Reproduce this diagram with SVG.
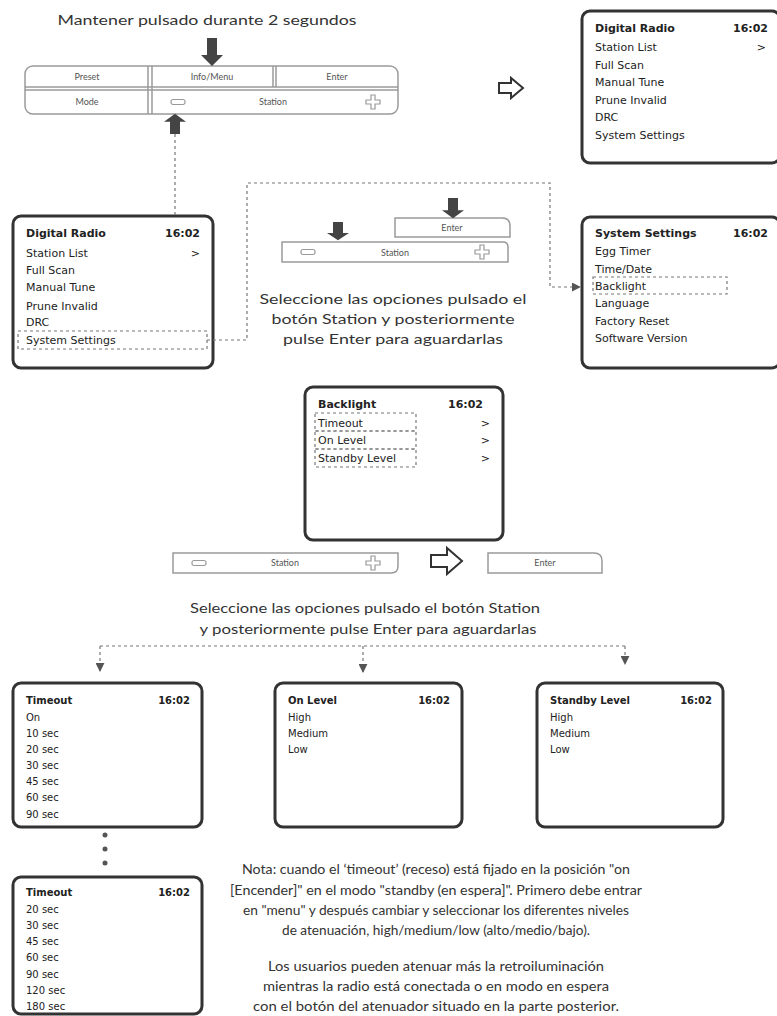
<svg xmlns="http://www.w3.org/2000/svg" xmlns:xlink="http://www.w3.org/1999/xlink" width="777" height="1016" viewBox="0 0 777 1016">
<style>
.cap{font-family:Lato,"Open Sans","Liberation Sans",sans-serif;font-size:13.5px;fill:#333;text-anchor:middle}
.btn{fill:#fff;stroke:#9a9a9a;stroke-width:1.5}
.btl{font-family:Lato,"Liberation Sans",sans-serif;font-size:9px;fill:#555;text-anchor:middle}
.scr{fill:#fff;stroke:#333;stroke-width:3}
.st{font-family:"DejaVu Sans",sans-serif;font-size:11px;fill:#222}
.sts{font-family:"DejaVu Sans",sans-serif;font-size:10px;fill:#222}
.b{font-weight:bold}
.r{text-anchor:end}
.dash{fill:none;stroke:#777;stroke-width:1.2;stroke-dasharray:3 3}
.blk{fill:#444}
.hol{fill:#fff;stroke:#333;stroke-width:2;stroke-linejoin:miter}
.ic{fill:#fff;stroke:#999;stroke-width:1.2}
</style>
<defs>
<marker id="tri" viewBox="0 0 10 10" refX="9" refY="5" markerWidth="9" markerHeight="9" markerUnits="userSpaceOnUse" orient="auto"><path d="M0,0 L10,5 L0,10 Z" fill="#555"/></marker>
<path id="down" d="M-5,0 H5 V17 H11 L0,28 L-11,17 H-5 Z"/>
<path id="plus" d="M-2,-7 H2 V-2 H7 V2 H2 V7 H-2 V2 H-7 V-2 H-2 Z"/>
<rect id="minus" x="-7" y="-2.5" width="14" height="5" rx="2"/>
</defs>

<text class="cap" x="207" y="25" font-size="14" textLength="299" lengthAdjust="spacingAndGlyphs">Mantener pulsado durante 2 segundos</text>

<g id="panel-top">
<rect class="btn" x="25" y="66" width="373" height="48" rx="8"/>
<line x1="25" y1="87" x2="398" y2="87" stroke="#9a9a9a" stroke-width="1.5"/>
<line x1="25" y1="90" x2="398" y2="90" stroke="#9a9a9a" stroke-width="1.5"/>
<line x1="148" y1="66" x2="148" y2="114" stroke="#9a9a9a" stroke-width="1.5"/>
<line x1="152" y1="66" x2="152" y2="114" stroke="#9a9a9a" stroke-width="1.5"/>
<line x1="273" y1="66" x2="273" y2="87" stroke="#9a9a9a" stroke-width="1.5"/>
<line x1="276" y1="66" x2="276" y2="87" stroke="#9a9a9a" stroke-width="1.5"/>
<text class="btl" x="87" y="80">Preset</text>
<text class="btl" x="212" y="80">Info/Menu</text>
<text class="btl" x="337" y="80">Enter</text>
<text class="btl" x="87" y="105">Mode</text>
<text class="btl" x="273" y="105">Station</text>
<use href="#minus" class="ic" x="178" y="102"/>
<use href="#plus" class="ic" x="373" y="102"/>
<use href="#down" class="blk" x="212" y="38"/>
<use href="#down" class="blk" transform="translate(175,134) scale(1,-0.72)"/>
</g>

<path id="arrow-top" class="hol" d="M499,83 H511 V78 L523,88 L511,98 V93 H499 Z"/>

<g id="screen-main2">
<rect class="scr" x="582" y="11" width="198" height="152" rx="8"/>
<text class="st b" x="595" y="32">Digital Radio</text>
<text class="st b r" x="768" y="32">16:02</text>
<text class="st" x="595" y="51">Station List</text>
<text class="st r" x="766" y="51">&gt;</text>
<text class="st" x="595" y="69">Full Scan</text>
<text class="st" x="595" y="86">Manual Tune</text>
<text class="st" x="595" y="104">Prune Invalid</text>
<text class="st" x="595" y="121">DRC</text>
<text class="st" x="595" y="139">System Settings</text>
</g>

<g id="screen-main1">
<rect class="scr" x="13" y="216" width="200" height="152" rx="8"/>
<text class="st b" x="26" y="237">Digital Radio</text>
<text class="st b r" x="200" y="237">16:02</text>
<text class="st" x="26" y="257">Station List</text>
<text class="st r" x="200" y="257">&gt;</text>
<text class="st" x="26" y="274">Full Scan</text>
<text class="st" x="26" y="291">Manual Tune</text>
<text class="st" x="26" y="310">Prune Invalid</text>
<text class="st" x="26" y="326">DRC</text>
<text class="st" x="26" y="344">System Settings</text>
<rect class="dash" x="18" y="331" width="189" height="18"/>
</g>

<g id="panel-mid">
<path class="btn" d="M395,218 H502 Q510,218 510,226 V237 H395 Z"/>
<text class="btl" x="452" y="231">Enter</text>
<path class="btn" d="M282,242 H503 Q508,242 508,247 V262 H282 Z"/>
<text class="btl" x="395" y="256">Station</text>
<use href="#minus" class="ic" x="308" y="252"/>
<use href="#plus" class="ic" x="482" y="252"/>
<use href="#down" class="blk" transform="translate(338,222) scale(1,0.65)"/>
<use href="#down" class="blk" transform="translate(453,198) scale(1,0.72)"/>
</g>
<text class="cap" x="393" y="304" font-size="14" textLength="267" lengthAdjust="spacingAndGlyphs">Seleccione las opciones pulsado el</text>
<text class="cap" x="393" y="324" font-size="14" textLength="243" lengthAdjust="spacingAndGlyphs">botón Station y posteriormente</text>
<text class="cap" x="393" y="344" font-size="14" textLength="220" lengthAdjust="spacingAndGlyphs">pulse Enter para aguardarlas</text>

<g id="screen-settings">
<rect class="scr" x="582" y="217" width="198" height="151" rx="8"/>
<text class="st b" x="595" y="237">System Settings</text>
<text class="st b r" x="768" y="237">16:02</text>
<text class="st" x="595" y="255">Egg Timer</text>
<text class="st" x="595" y="273">Time/Date</text>
<text class="st" x="595" y="290">Backlight</text>
<text class="st" x="595" y="307">Language</text>
<text class="st" x="595" y="325">Factory Reset</text>
<text class="st" x="595" y="342">Software Version</text>
<rect class="dash" x="593" y="277" width="134" height="17"/>
</g>

<g id="screen-backlight">
<rect class="scr" x="305" y="387" width="198" height="153" rx="8"/>
<text class="st b" x="318" y="408">Backlight</text>
<text class="st b r" x="483" y="408">16:02</text>
<text class="st" x="318" y="427">Timeout</text>
<text class="st r" x="490" y="427">&gt;</text>
<text class="st" x="318" y="444">On Level</text>
<text class="st r" x="490" y="444">&gt;</text>
<text class="st" x="318" y="462">Standby Level</text>
<text class="st r" x="490" y="462">&gt;</text>
<rect class="dash" x="315" y="413" width="101" height="18"/>
<rect class="dash" x="315" y="431" width="101" height="18"/>
<rect class="dash" x="315" y="449" width="101" height="18"/>
</g>

<g id="panel-bottom">
<path class="btn" d="M173,553 H398 V566 Q398,573 391,573 H173 Z"/>
<text class="btl" x="285" y="566">Station</text>
<use href="#minus" class="ic" x="199" y="563"/>
<use href="#plus" class="ic" x="373" y="563"/>
<path class="btn" d="M488,553 H594 Q602,553 602,561 V573 H488 Z"/>
<text class="btl" x="545" y="566">Enter</text>
</g>
<path id="arrow-bottom" class="hol" d="M431,555 H447 V548 L462,561 L447,574 V567 H431 Z"/>

<text class="cap" x="365" y="613" font-size="13" textLength="350" lengthAdjust="spacingAndGlyphs">Seleccione las opciones pulsado el botón Station</text>
<text class="cap" x="368" y="634" font-size="13" textLength="337" lengthAdjust="spacingAndGlyphs">y posteriormente pulse Enter para aguardarlas</text>

<g id="connectors">
<line class="dash" x1="175" y1="134" x2="175" y2="215"/>
<polyline class="dash" points="207,340 247,340 247,183 550,183 550,287 580,287" marker-end="url(#tri)"/>
<line class="dash" x1="100" y1="646" x2="625" y2="646"/>
<line class="dash" x1="100" y1="646" x2="100" y2="671" marker-end="url(#tri)"/>
<line class="dash" x1="363" y1="646" x2="363" y2="672" marker-end="url(#tri)"/>
<line class="dash" x1="625" y1="646" x2="625" y2="664" marker-end="url(#tri)"/>
</g>

<g id="screen-timeout">
<rect class="scr" x="13" y="683" width="189" height="144" rx="8"/>
<text class="sts b" x="26" y="704">Timeout</text>
<text class="sts b r" x="190" y="704">16:02</text>
<text class="sts" x="26" y="721">On</text>
<text class="sts" x="26" y="737">10 sec</text>
<text class="sts" x="26" y="753">20 sec</text>
<text class="sts" x="26" y="769">30 sec</text>
<text class="sts" x="26" y="785">45 sec</text>
<text class="sts" x="26" y="801">60 sec</text>
<text class="sts" x="26" y="818">90 sec</text>
</g>

<g id="screen-onlevel">
<rect class="scr" x="275" y="683" width="187" height="144" rx="8"/>
<text class="sts b" x="288" y="704">On Level</text>
<text class="sts b r" x="450" y="704">16:02</text>
<text class="sts" x="288" y="721">High</text>
<text class="sts" x="288" y="737">Medium</text>
<text class="sts" x="288" y="753">Low</text>
</g>

<g id="screen-standby">
<rect class="scr" x="537" y="683" width="186" height="144" rx="8"/>
<text class="sts b" x="550" y="704">Standby Level</text>
<text class="sts b r" x="712" y="704">16:02</text>
<text class="sts" x="550" y="721">High</text>
<text class="sts" x="550" y="737">Medium</text>
<text class="sts" x="550" y="753">Low</text>
</g>

<g id="dots" fill="#555">
<circle cx="105" cy="835" r="2.5"/>
<circle cx="105" cy="849" r="2.5"/>
<circle cx="105" cy="863" r="2.5"/>
</g>

<g id="screen-timeout2">
<rect class="scr" x="13" y="877" width="189" height="137" rx="8"/>
<text class="sts b" x="26" y="896">Timeout</text>
<text class="sts b r" x="190" y="896">16:02</text>
<text class="sts" x="26" y="913">20 sec</text>
<text class="sts" x="26" y="929">30 sec</text>
<text class="sts" x="26" y="945">45 sec</text>
<text class="sts" x="26" y="961">60 sec</text>
<text class="sts" x="26" y="978">90 sec</text>
<text class="sts" x="26" y="994">120 sec</text>
<text class="sts" x="26" y="1010">180 sec</text>
</g>

<g id="note" class="cap" font-size="13">
<text x="436" y="874" textLength="388" lengthAdjust="spacingAndGlyphs">Nota: cuando el ‘timeout’ (receso) está fijado en la posición "on</text>
<text x="436" y="895" textLength="412" lengthAdjust="spacingAndGlyphs">[Encender]" en el modo "standby (en espera]". Primero debe entrar</text>
<text x="436" y="915" textLength="386" lengthAdjust="spacingAndGlyphs">en "menu" y después cambiar y seleccionar los diferentes niveles</text>
<text x="436" y="935" textLength="308" lengthAdjust="spacingAndGlyphs">de atenuación, high/medium/low (alto/medio/bajo).</text>
<text x="436" y="971" textLength="336" lengthAdjust="spacingAndGlyphs">Los usuarios pueden atenuar más la retroiluminación</text>
<text x="436" y="991" textLength="346" lengthAdjust="spacingAndGlyphs">mientras la radio está conectada o en modo en espera</text>
<text x="436" y="1011" textLength="366" lengthAdjust="spacingAndGlyphs">con el botón del atenuador situado en la parte posterior.</text>
</g>
</svg>
